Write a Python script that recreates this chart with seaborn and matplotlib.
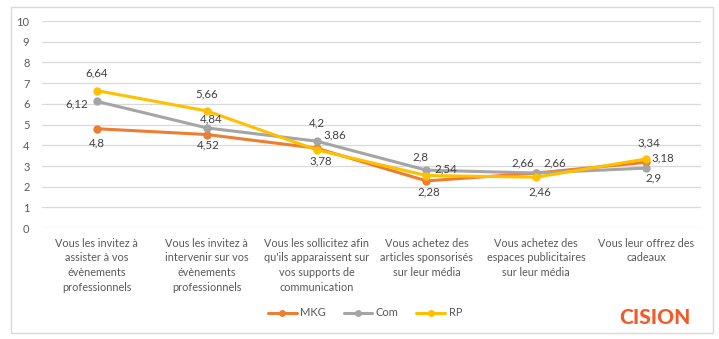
import matplotlib
matplotlib.use("Agg")
import matplotlib.pyplot as plt
import seaborn as sns
import pandas as pd
from matplotlib.patches import Rectangle
from matplotlib.lines import Line2D

categories = [
    "Vous les invitez à\nassister à vos\névènements\nprofessionnels",
    "Vous les invitez à\nintervenir sur vos\névènements\nprofessionnels",
    "Vous les sollicitez afin\nqu'ils apparaissent sur\nvos supports de\ncommunication",
    "Vous achetez des\narticles sponsorisés\nsur leur média",
    "Vous achetez des\nespaces publicitaires\nsur leur média",
    "Vous leur offrez des\ncadeaux",
]
series_names = ["MKG", "Com", "RP"]
mkg = [4.8, 4.52, 3.86, 2.28, 2.66, 3.18]
com = [6.12, 4.84, 4.2, 2.8, 2.66, 2.9]
rp = [6.64, 5.66, 3.78, 2.54, 2.46, 3.34]
yticks = list(range(0, 11))

colors = {"MKG": "#ED7D31", "Com": "#A5A5A5", "RP": "#FFC000"}
# data-label centre offsets from each point, in pixels (x right, y up)
label_off = {
    "MKG": [(0, -14), (2, -10), (18, 13), (2, -11), (-14, 10), (17, 4)],
    "Com": [(-20, -3), (4, 9), (0, 18), (-6, 13), (18, 10), (7, -10)],
    "RP":  [(0, 18), (0, 17), (4, -11), (19, 7), (4, -15), (3, 16)],
}

sns.set_theme(style="white")
plt.rcParams['font.family'] = ['Lato', 'DejaVu Sans']

rows = []
for name, vals in zip(series_names, [mkg, com, rp]):
    for i, v in enumerate(vals):
        rows.append({"cat": i, "val": v, "serie": name})
df = pd.DataFrame(rows)

fig = plt.figure(figsize=(7.19, 3.39), dpi=100)
ax = fig.add_axes([0.0584, 0.327, 0.9166, 0.611])

sns.lineplot(data=df, x="cat", y="val", hue="serie", palette=colors,
             marker="o", markersize=6, markeredgewidth=0, linewidth=2.2,
             ax=ax, legend=False, sort=False)

ax.set_xlim(-0.5, 5.5)
ax.set_ylim(0, 10)
ax.set_yticks(yticks)
ax.set_yticklabels([str(t) for t in yticks])
ax.set_xticks(range(len(categories)))
ax.set_xticklabels(categories, fontsize=7.8, color="#595959", linespacing=1.4)
ax.tick_params(axis="y", labelsize=8, colors="#595959", length=0, pad=9)
ax.tick_params(axis="x", length=0, pad=7)
ax.yaxis.grid(True, color="#D9D9D9", linewidth=0.9)
ax.set_axisbelow(True)
for s in ax.spines.values():
    s.set_visible(False)
ax.set_xlabel("")
ax.set_ylabel("")

for name, vals in zip(series_names, [mkg, com, rp]):
    for i, v in enumerate(vals):
        dx, dy = label_off[name][i]
        ax.annotate(f"{v:g}".replace(".", ","), (i, v), xytext=(dx, dy),
                    textcoords="offset pixels", ha="center", va="center",
                    fontsize=8.3, color="#404040")

handles = [Line2D([0], [0], color=colors[n], lw=2.2, marker="o", markersize=5,
                  markeredgewidth=0) for n in series_names]
fig.legend(handles, series_names, loc="center", bbox_to_anchor=(365/719, 0.077),
           ncol=3, frameon=False, fontsize=8, handlelength=2.6,
           handletextpad=0.3, columnspacing=1.6, labelcolor="#595959")

fig.text(655/719, 1 - 318/339, "CISION", ha="center", va="center",
         fontsize=15, fontweight="black", color="#F15A29", family="Lato")

fig.patches.append(Rectangle((11/719, 1 - 333/339), (713 - 11)/719, (333 - 7)/339,
                             transform=fig.transFigure, fill=False,
                             edgecolor="#D9D9D9", linewidth=1))

fig.savefig("out.png", dpi=100)
